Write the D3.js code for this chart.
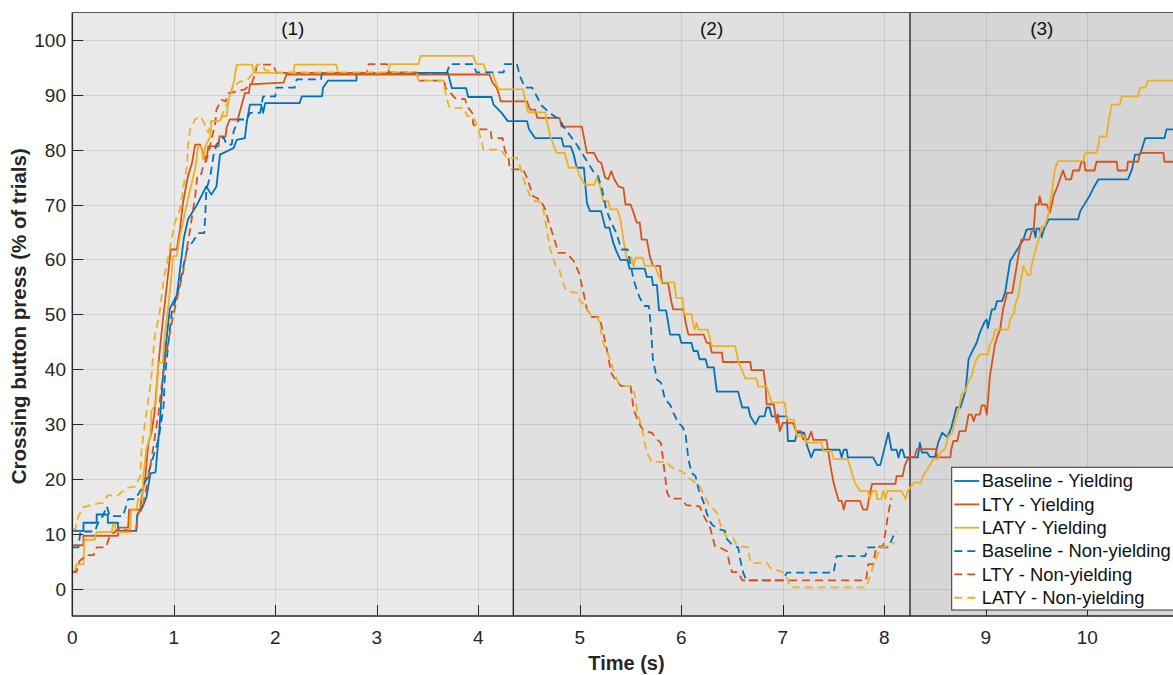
<!DOCTYPE html>
<html>
<head>
<meta charset="utf-8">
<script src="https://cdn.jsdelivr.net/npm/d3@7"></script>
<style>
  html, body { margin: 0; padding: 0; background: #fff; }
  svg { display: block; font-family: "Liberation Sans", Arial, Helvetica, sans-serif; }
</style>
</head>
<body>
<svg id="chart" width="1173" height="675"></svg>
<script>
// ---------------- DATA ----------------
const seriesNames = ["Baseline - Yielding", "LTY - Yielding", "LATY - Yielding",
                     "Baseline - Non-yielding", "LTY - Non-yielding", "LATY - Non-yielding"];
const xTicks = [0, 1, 2, 3, 4, 5, 6, 7, 8, 9, 10];
const yTicks = [0, 10, 20, 30, 40, 50, 60, 70, 80, 90, 100];
const regionBounds = [0, 4.345, 8.253, 10.85];
const regionLabels = ["(1)", "(2)", "(3)"];
const xLabel = "Time (s)";
const yLabel = "Crossing button press (% of trials)";

const baselineYielding = [[0,10.5],[0.11,10.5],[0.11,12.0],[0.24,12.0],[0.24,13.5],[0.35,13.5],[0.35,12.0],[0.45,12.0],[0.45,10.5],[0.63,10.5],[0.64,13.5],[0.69,14.8],[0.73,16.6],[0.77,21],[0.82,21.2],[0.86,29.6],[0.89,38],[0.92,44],[0.96,51],[1.03,53.5],[1.06,58],[1.10,64],[1.14,67.3],[1.23,70],[1.27,71.5],[1.32,73.3],[1.37,71.8],[1.42,73.3],[1.455,79.1],[1.59,80.3],[1.62,81.8],[1.70,82.1],[1.72,85.2],[1.75,88.2],[1.86,88.2],[1.88,86.7],[1.90,88.5],[2.24,88.5],[2.26,89.7],[2.46,89.7],[2.47,91.3],[2.52,92.6],[2.80,92.6],[2.80,94.0],[3.70,94.0],[3.74,91.2],[3.88,91.2],[3.90,89.6],[4.13,89.6],[4.15,88.2],[4.23,86.7],[4.29,85.2],[4.48,85.2],[4.50,83.7],[4.56,82.1],[4.82,82.1],[4.84,80.6],[4.91,80.6],[4.94,79.1],[4.97,76.7],[5.04,76.7],[5.07,70.3],[5.10,68.8],[5.21,68.8],[5.25,65.8],[5.29,65.8],[5.33,63],[5.36,61.5],[5.40,59.9],[5.47,59.9],[5.49,58.3],[5.64,58.3],[5.66,56.8],[5.71,56.8],[5.72,55.3],[5.76,55.3],[5.78,50.7],[5.85,50.7],[5.89,46.3],[5.98,46.3],[6.00,44.8],[6.10,44.8],[6.12,43.3],[6.16,43.3],[6.18,41.8],[6.24,41.8],[6.26,40.3],[6.32,40.3],[6.35,35.9],[6.56,35.9],[6.60,33],[6.66,33],[6.68,31.4],[6.73,29.9],[6.77,31.4],[6.82,31.4],[6.84,33],[6.87,33],[6.89,31.4],[7.04,31.4],[7.05,26.9],[7.12,26.9],[7.14,28.4],[7.21,28.4],[7.24,26],[7.28,23.9],[7.31,25.3],[7.56,25.3],[7.58,23.9],[7.60,25.3],[7.63,25.3],[7.64,23.9],[7.89,23.9],[7.93,22.5],[7.96,22.5],[8.04,28.4],[8.07,25.3],[8.12,25.3],[8.14,23.9],[8.16,25.3],[8.18,25.3],[8.20,23.9],[8.33,23.9],[8.35,26.6],[8.37,24.8],[8.42,24.8],[8.45,24],[8.50,24],[8.53,26.6],[8.57,28.4],[8.62,27.6],[8.66,29.3],[8.71,33],[8.75,33],[8.80,36],[8.83,41.8],[8.86,43],[8.91,44.8],[8.94,46.6],[8.99,48.7],[9.01,49.0],[9.02,47.5],[9.06,50.9],[9.09,50.9],[9.11,52.4],[9.16,52.4],[9.19,53.9],[9.21,56.3],[9.24,59.7],[9.29,61.2],[9.34,62.7],[9.37,63.6],[9.40,65.4],[9.47,65.6],[9.49,64],[9.50,65.6],[9.53,65.6],[9.55,64],[9.57,65.4],[9.62,67.3],[9.91,67.3],[9.93,68.8],[9.98,70.3],[10.02,71.5],[10.06,73],[10.11,74.6],[10.40,74.6],[10.44,76.4],[10.47,79.1],[10.52,79.1],[10.57,82.1],[10.76,82.1],[10.78,83.7],[10.9,83.7]];

const ltyYielding = [[0,7.9],[0.11,7.9],[0.11,9.6],[0.45,9.6],[0.46,11.1],[0.55,11.1],[0.56,14.4],[0.67,14.4],[0.68,16.3],[0.72,20.5],[0.75,26.6],[0.78,28.4],[0.81,32],[0.85,41.2],[0.89,48.5],[0.93,55],[0.97,61.8],[1.03,61.8],[1.06,65.4],[1.09,70.3],[1.14,75.2],[1.18,77.6],[1.21,80.9],[1.26,80.9],[1.29,79.4],[1.32,77.9],[1.34,80.6],[1.44,80.6],[1.45,82.4],[1.51,82.4],[1.52,84],[1.55,85.5],[1.63,85.5],[1.70,90.3],[1.74,90.3],[1.75,91.9],[2.08,92.2],[2.11,93.7],[4.11,93.7],[4.14,92.2],[4.18,91.3],[4.20,90.3],[4.22,88.8],[4.48,88.8],[4.51,87.3],[4.56,87.3],[4.58,85.8],[4.80,85.8],[4.82,84.2],[5.02,84.2],[5.07,79.4],[5.14,79.4],[5.18,77.9],[5.21,77.6],[5.25,74.9],[5.28,74.6],[5.31,76.1],[5.34,74.6],[5.38,73.3],[5.43,73],[5.45,70],[5.50,70],[5.53,68.5],[5.56,66.7],[5.59,66.7],[5.61,63.6],[5.66,63.6],[5.69,60.6],[5.72,58.8],[5.79,58.8],[5.81,55.7],[5.87,55.7],[5.90,52.4],[5.92,50.9],[6.02,50.9],[6.05,47.8],[6.07,46.3],[6.22,46.3],[6.25,44.8],[6.28,44.8],[6.30,43],[6.40,43],[6.41,41.3],[6.68,41.3],[6.69,39.8],[6.81,39.8],[6.83,37],[6.84,33.6],[6.91,33.6],[6.94,30.2],[6.95,31.8],[6.97,28.7],[7.0,30.2],[7.10,30.2],[7.13,28.7],[7.18,28.7],[7.20,27.2],[7.25,27.2],[7.28,28.6],[7.30,27.1],[7.43,27.1],[7.47,22.3],[7.50,19.3],[7.55,16],[7.58,16],[7.60,14.4],[7.62,16],[7.76,16],[7.79,14.4],[7.83,14.4],[7.86,17.5],[7.88,19.1],[8.11,19.1],[8.12,20.5],[8.18,20.5],[8.20,22.3],[8.24,24],[8.30,24],[8.32,25.4],[8.51,25.4],[8.52,23.9],[8.65,23.9],[8.66,25.4],[8.68,26.9],[8.72,26.9],[8.74,28.7],[8.80,28.7],[8.83,31.7],[8.86,31.7],[8.88,30.5],[8.90,31.7],[8.94,31.7],[8.96,33.4],[8.99,33.4],[9.01,31.7],[9.04,38.7],[9.09,44.5],[9.12,46.3],[9.14,47.2],[9.17,50.9],[9.21,53.9],[9.26,53.9],[9.29,57.2],[9.32,60.6],[9.35,63.6],[9.43,63.6],[9.45,65.1],[9.47,65.1],[9.49,70],[9.52,70],[9.53,71.5],[9.55,70],[9.60,70],[9.63,68.5],[9.65,70],[9.67,71.8],[9.70,73],[9.73,74.6],[9.76,76.2],[9.79,74.6],[9.84,74.6],[9.86,76.2],[9.92,76.2],[9.94,77.8],[9.97,77.8],[9.98,76.2],[10.07,76.2],[10.09,77.8],[10.29,77.8],[10.30,76.2],[10.39,76.2],[10.40,77.8],[10.50,77.8],[10.52,79.4],[10.75,79.4],[10.76,77.8],[10.9,77.8]];

const latyYielding = [[0,3.2],[0.03,3.2],[0.04,4.4],[0.11,4.4],[0.12,8.9],[0.22,8.9],[0.24,10.3],[0.39,10.3],[0.40,11.7],[0.42,11.7],[0.43,10.3],[0.57,10.3],[0.58,14.4],[0.63,14.4],[0.65,16.3],[0.69,16.3],[0.70,20.5],[0.73,25.4],[0.77,28.1],[0.78,32.4],[0.82,33.5],[0.83,36.3],[0.85,41.2],[0.89,41.2],[0.91,46],[0.95,52.1],[0.98,57.6],[0.99,60.6],[1.03,60.6],[1.06,64.2],[1.11,68.5],[1.16,72.7],[1.21,76.4],[1.24,80.6],[1.27,80.6],[1.29,78.2],[1.31,80.6],[1.36,82.4],[1.37,85.2],[1.45,85.2],[1.48,86.1],[1.52,86.1],[1.54,89.1],[1.57,91],[1.59,92.2],[1.62,95.5],[1.77,95.5],[1.79,94],[2.18,94],[2.19,95.5],[2.60,95.5],[2.62,94],[3.11,94],[3.13,95.6],[3.41,95.6],[3.43,97.1],[3.95,97.1],[3.98,95.6],[4.05,95.6],[4.08,94.1],[4.14,94.1],[4.17,92.3],[4.20,91],[4.44,91],[4.49,86.8],[4.66,86.8],[4.67,85.5],[4.71,82.4],[4.74,80.9],[4.77,79.4],[4.85,79.4],[4.89,76.7],[4.97,76.7],[5.00,75.2],[5.05,73.6],[5.14,73.6],[5.17,74.9],[5.20,73.3],[5.23,70.6],[5.28,70.6],[5.30,69.1],[5.37,69.1],[5.40,67.3],[5.43,63.6],[5.46,60.3],[5.51,60.3],[5.53,58.8],[5.55,60.3],[5.62,60.3],[5.64,58.8],[5.74,58.8],[5.77,57.3],[5.81,55.8],[5.93,55.8],[5.95,53],[6.01,53],[6.03,50],[6.10,50],[6.13,47.2],[6.15,48.4],[6.17,47.2],[6.26,47.2],[6.30,44.2],[6.53,44.2],[6.56,41.5],[6.63,38.3],[6.74,38.3],[6.76,36.8],[6.84,36.8],[6.89,33.9],[7.02,33.9],[7.04,30.8],[7.11,30.8],[7.14,27.8],[7.21,27.8],[7.23,26.6],[7.38,26.6],[7.40,25.1],[7.48,25.1],[7.50,23.6],[7.64,23.6],[7.71,19.3],[7.76,17.8],[7.84,17.8],[7.86,16.3],[7.88,17.8],[7.92,17.8],[7.93,16.3],[7.97,16.3],[7.99,17.8],[8.01,16.3],[8.03,17.8],[8.17,17.8],[8.21,16.3],[8.23,17.8],[8.29,19.3],[8.36,19.3],[8.38,20.5],[8.45,22.5],[8.48,23.6],[8.53,23.6],[8.55,24.8],[8.60,25.5],[8.63,27.8],[8.67,28.4],[8.70,30.8],[8.73,32.4],[8.76,35.4],[8.80,36.0],[8.83,37.8],[8.86,38.7],[8.89,40.9],[8.91,41.8],[8.94,42.7],[9.02,42.7],[9.04,44.5],[9.07,45.4],[9.09,47.2],[9.22,47.2],[9.24,49.1],[9.28,50.3],[9.29,51.8],[9.32,53.3],[9.34,55.7],[9.37,58.8],[9.41,57.2],[9.44,57.2],[9.45,58.8],[9.47,60.3],[9.50,62.4],[9.53,64.2],[9.55,66],[9.58,66],[9.62,68.5],[9.63,70],[9.65,72.1],[9.68,76.4],[9.71,77.9],[9.96,77.9],[9.98,79.4],[10.09,79.4],[10.11,80.9],[10.12,82.4],[10.19,82.4],[10.21,85.2],[10.24,88.2],[10.32,88.2],[10.34,89.7],[10.50,89.7],[10.52,91.3],[10.57,91.3],[10.60,92.6],[10.9,92.6]];

const baselineNonYielding = [[0,7.5],[0.06,7.5],[0.08,10.4],[0.22,10.4],[0.26,12.2],[0.30,13.2],[0.34,15],[0.37,13.2],[0.50,13.2],[0.55,16.3],[0.62,16.3],[0.68,18.1],[0.73,19.9],[0.77,22.3],[0.81,24.8],[0.85,27.2],[0.90,33.3],[0.91,38.1],[0.95,45.4],[0.98,50.3],[1.03,53.3],[1.06,55.7],[1.13,61.8],[1.19,63.3],[1.24,64.8],[1.30,64.8],[1.31,67.9],[1.32,72.7],[1.36,75.2],[1.39,78.8],[1.42,80.9],[1.49,82.3],[1.52,80.9],[1.57,80.9],[1.59,83.4],[1.64,85.5],[1.72,85.5],[1.75,86.7],[1.85,86.7],[1.88,89.7],[2.00,89.7],[2.01,91.3],[2.19,91.3],[2.21,92.8],[2.45,92.8],[2.46,94],[3.69,94],[3.72,95.6],[3.95,95.6],[3.98,94.1],[4.25,94.1],[4.26,95.6],[4.38,95.6],[4.41,93.4],[4.46,91.3],[4.53,91.3],[4.58,89.6],[4.62,88.1],[4.71,86.6],[4.80,85.5],[4.84,84.2],[4.90,82.7],[4.97,80.9],[5.07,77.9],[5.13,76.1],[5.18,75.2],[5.22,72.7],[5.26,69.1],[5.31,66.7],[5.36,64.8],[5.41,61.8],[5.47,61.8],[5.49,60],[5.53,56.3],[5.56,54.5],[5.59,53],[5.64,51.5],[5.68,51.5],[5.70,47.8],[5.72,41.8],[5.76,38.1],[5.80,37.5],[5.84,34.5],[5.89,33.5],[5.92,32.1],[5.97,30.2],[6.01,29.5],[6.04,28.4],[6.07,23.6],[6.10,21.1],[6.14,20.5],[6.17,18.1],[6.22,15.7],[6.25,13.8],[6.28,12.3],[6.31,11.5],[6.38,10.8],[6.43,10.5],[6.45,9],[6.51,7.8],[6.56,7.5],[6.58,5.3],[6.61,2.9],[6.64,1.5],[7.00,1.5],[7.04,2.9],[7.50,2.9],[7.53,5.9],[7.81,5.9],[7.84,7.5],[8.04,7.5],[8.09,9.6],[8.12,10.5]];

const ltyNonYielding = [[0,3.0],[0.04,3.0],[0.07,5],[0.14,6.1],[0.21,6.1],[0.24,7.5],[0.33,7.5],[0.37,9.6],[0.45,10.8],[0.60,10.5],[0.63,10.8],[0.65,13.8],[0.69,14.4],[0.72,17.5],[0.75,20.5],[0.78,23.6],[0.81,27.2],[0.85,32.1],[0.88,36.9],[0.91,41.2],[0.95,45.4],[0.98,48.5],[1.03,52.7],[1.09,57.5],[1.16,65.4],[1.21,71.5],[1.23,74.9],[1.26,74.9],[1.29,77],[1.34,79.1],[1.37,81.8],[1.41,84.9],[1.42,87.3],[1.47,89.1],[1.51,88.8],[1.54,90.3],[1.62,90.6],[1.70,91],[1.77,92.2],[1.80,93.7],[1.82,95.5],[1.98,95.5],[2.01,94],[2.90,94],[2.92,95.6],[3.10,95.6],[3.12,94.1],[3.39,94.1],[3.41,92.6],[3.66,92.6],[3.68,91.2],[3.72,90.5],[3.77,89.4],[3.87,89.2],[3.89,87.9],[3.94,86.7],[3.95,84.6],[4.02,83.7],[4.12,83.7],[4.13,82.1],[4.24,82.1],[4.26,80],[4.30,78.2],[4.31,76.4],[4.44,76.4],[4.48,74.9],[4.54,71.5],[4.61,70.9],[4.66,69.1],[4.69,67],[4.74,64.2],[4.79,61.2],[4.87,61.2],[4.94,59.7],[4.99,57.6],[5.03,54.5],[5.07,50.9],[5.12,49.5],[5.19,49.5],[5.22,47.5],[5.26,44.2],[5.31,39.3],[5.36,37.8],[5.41,36.9],[5.50,36.9],[5.53,32.7],[5.58,30.2],[5.63,28.7],[5.71,28.4],[5.76,27.2],[5.80,26.5],[5.82,23.6],[5.86,17.5],[5.89,16.4],[6.00,16.4],[6.05,15.2],[6.18,15.0],[6.23,12.9],[6.28,11.4],[6.33,7.8],[6.38,7.5],[6.45,6.8],[6.48,4.1],[6.50,3.0],[6.56,3.0],[6.60,1.5],[7.82,1.5],[7.84,4.4],[7.89,4.5],[7.92,7.5],[7.99,7.8],[8.02,11.4],[8.04,13.8],[8.07,16.5]];

const latyNonYielding = [[0,10.8],[0.03,10.8],[0.06,13.2],[0.11,14.8],[0.21,15.4],[0.30,15.6],[0.35,17],[0.45,17],[0.50,17.8],[0.55,18.4],[0.62,18.6],[0.67,20.5],[0.68,24.8],[0.72,30.8],[0.75,34.5],[0.78,38.7],[0.81,45.7],[0.86,50.3],[0.90,56.3],[0.96,61.8],[1.01,66.7],[1.06,69.1],[1.09,72.7],[1.13,77],[1.14,80.6],[1.16,83.7],[1.21,85.5],[1.26,86.1],[1.29,85.2],[1.34,83.1],[1.37,85.2],[1.45,85.2],[1.48,86.5],[1.54,89.1],[1.56,90],[1.59,91.9],[1.62,91.9],[1.65,92.4],[1.72,92.6],[1.77,93.7],[1.82,95.5],[1.87,95.5],[1.90,94.5],[2.01,94.1],[3.39,94.1],[3.41,92.6],[3.66,92.6],[3.67,90.9],[3.71,87.9],[3.76,87.6],[3.86,87.6],[3.89,86.1],[3.95,86.1],[3.98,84.6],[4.03,81.8],[4.05,80],[4.22,80],[4.28,78.5],[4.38,78.5],[4.41,77],[4.46,73.9],[4.51,71.5],[4.56,70.6],[4.60,70.6],[4.64,69.1],[4.67,66],[4.71,61.8],[4.74,60],[4.77,58.5],[4.80,58],[4.84,55.4],[4.87,54.2],[4.97,53.9],[5.00,52.4],[5.03,52],[5.07,50.9],[5.13,49.4],[5.18,49.4],[5.20,47.8],[5.23,44.8],[5.30,41.8],[5.35,38.7],[5.38,37.5],[5.43,36.9],[5.51,36.9],[5.54,35.4],[5.57,32],[5.61,29.3],[5.66,24.8],[5.71,23.1],[5.86,23.1],[5.89,22.3],[5.94,21.8],[6.00,21.4],[6.09,20],[6.18,18.7],[6.23,16.9],[6.27,15.4],[6.35,13.8],[6.40,10.8],[6.45,9.3],[6.51,9.2],[6.55,7.8],[6.66,7.5],[6.68,4.7],[6.84,4.7],[6.89,3.5],[6.95,3.3],[7.00,3.0],[7.04,2.0],[7.07,0.2],[7.82,0.2],[7.86,2.3],[7.89,4.1],[7.96,7.5],[8.07,7.8],[8.10,8.5]];

const seriesData = [baselineYielding, ltyYielding, latyYielding,
                    baselineNonYielding, ltyNonYielding, latyNonYielding];

// ---------------- STYLE ----------------
const colors = ["#0072BD", "#D95319", "#EDB120", "#0072BD", "#D95319", "#EDB120"];
const dashed = [false, false, false, true, true, true];
const regionFills = ["#e9e9e9", "#e0e0e0", "#d6d6d6"];
const axisColor = "#262626";

const svg = d3.select("#chart");
const plot = { left: 72.3, right: 1173.6, top: 12.5, bottom: 616 };

const x = d3.scaleLinear().domain([0, 10.85]).range([plot.left, plot.right]);
const y = d3.scaleLinear().domain([-5, 105]).range([plot.bottom, plot.top]);

svg.append("defs").append("clipPath").attr("id", "clip")
  .append("rect").attr("x", plot.left).attr("y", plot.top)
  .attr("width", plot.right - plot.left + 10).attr("height", plot.bottom - plot.top);

// region backgrounds
const regions = regionLabels.map((lab, i) => ({ lab, x0: regionBounds[i], x1: regionBounds[i + 1] }));
svg.append("g").selectAll("rect").data(regions).join("rect")
  .attr("x", d => x(d.x0)).attr("y", plot.top)
  .attr("width", (d, i) => (i === regions.length - 1 ? 20 : 0) + x(d.x1) - x(d.x0))
  .attr("height", plot.bottom - plot.top)
  .attr("fill", (d, i) => regionFills[i]);

// grid
const grid = svg.append("g").attr("stroke", "rgba(38,38,38,0.11)").attr("stroke-width", 1);
grid.selectAll("line.gx").data(xTicks).join("line").attr("class", "gx")
  .attr("x1", d => Math.round(x(d)) + 0.5).attr("x2", d => Math.round(x(d)) + 0.5)
  .attr("y1", plot.top).attr("y2", plot.bottom);
grid.selectAll("line.gy").data(yTicks).join("line").attr("class", "gy")
  .attr("x1", plot.left).attr("x2", plot.right + 10)
  .attr("y1", d => Math.round(y(d)) + 0.5).attr("y2", d => Math.round(y(d)) + 0.5);

// region boundary lines
svg.append("g").selectAll("line").data(regionBounds.slice(1, 3)).join("line")
  .attr("x1", d => x(d)).attr("x2", d => x(d))
  .attr("y1", plot.top).attr("y2", plot.bottom)
  .attr("stroke", "#1a1a1a").attr("stroke-width", 1.3);

// region labels
svg.append("g").selectAll("text").data(regions).join("text")
  .attr("x", d => (x(d.x0) + x(d.x1)) / 2).attr("y", 34.5)
  .attr("text-anchor", "middle").attr("font-size", 19).attr("fill", "#111")
  .text(d => d.lab);

// lines
const line = d3.line().x(d => x(d[0])).y(d => y(d[1]));
const lg = svg.append("g").attr("clip-path", "url(#clip)");
seriesData.forEach((s, i) => {
  lg.append("path").datum(s)
    .attr("d", line)
    .attr("fill", "none")
    .attr("stroke", colors[i])
    .attr("stroke-width", 1.8)
    .attr("stroke-linejoin", "round")
    .attr("stroke-dasharray", dashed[i] ? "8,5" : null);
});

// axes box lines
svg.append("line").attr("x1", plot.left).attr("x2", plot.left)
  .attr("y1", plot.top).attr("y2", plot.bottom + 0.5)
  .attr("stroke", axisColor).attr("stroke-width", 1.5);
svg.append("line").attr("x1", plot.left).attr("x2", plot.right + 10)
  .attr("y1", plot.bottom).attr("y2", plot.bottom)
  .attr("stroke", axisColor).attr("stroke-width", 1.5);
svg.append("line").attr("x1", plot.left).attr("x2", plot.right + 10)
  .attr("y1", plot.top).attr("y2", plot.top)
  .attr("stroke", "#555").attr("stroke-width", 1.2);

// ticks (inward)
svg.append("g").selectAll("line").data(xTicks).join("line")
  .attr("x1", d => Math.round(x(d)) + 0.5).attr("x2", d => Math.round(x(d)) + 0.5)
  .attr("y1", plot.bottom).attr("y2", plot.bottom - 11)
  .attr("stroke", axisColor).attr("stroke-width", 1);
svg.append("g").selectAll("line").data(yTicks).join("line")
  .attr("x1", plot.left).attr("x2", plot.left + 11)
  .attr("y1", d => Math.round(y(d)) + 0.5).attr("y2", d => Math.round(y(d)) + 0.5)
  .attr("stroke", axisColor).attr("stroke-width", 1);

// tick labels
svg.append("g").selectAll("text").data(xTicks).join("text")
  .attr("x", d => x(d)).attr("y", 644)
  .attr("text-anchor", "middle").attr("font-size", 19).attr("fill", axisColor)
  .text(d => d);
svg.append("g").selectAll("text").data(yTicks).join("text")
  .attr("x", 66).attr("y", d => y(d) + 7)
  .attr("text-anchor", "end").attr("font-size", 19).attr("fill", axisColor)
  .text(d => d);

// axis titles
svg.append("text").attr("x", 626.5).attr("y", 670)
  .attr("text-anchor", "middle").attr("font-size", 20).attr("font-weight", "bold")
  .attr("fill", axisColor).text(xLabel);
svg.append("text").attr("transform", "translate(25.5," + ((plot.top + plot.bottom) / 2 + 2) + ") rotate(-90)")
  .attr("text-anchor", "middle").attr("font-size", 20.5).attr("font-weight", "bold")
  .attr("fill", axisColor).text(yLabel);

// legend
const leg = { x: 951.7, y: 467.3, w: 240, h: 142.7 };
const lgd = svg.append("g");
lgd.append("rect").attr("x", leg.x).attr("y", leg.y).attr("width", leg.w).attr("height", leg.h)
  .attr("fill", "#ffffff").attr("stroke", "#333").attr("stroke-width", 1);
const rowY = i => 481 + i * 23.35;
seriesNames.forEach((name, i) => {
  lgd.append("line").attr("x1", 954.3).attr("x2", 979.3)
    .attr("y1", rowY(i)).attr("y2", rowY(i))
    .attr("stroke", colors[i]).attr("stroke-width", 1.8)
    .attr("stroke-dasharray", dashed[i] ? "8,5" : null);
  lgd.append("text").attr("x", 981.7).attr("y", rowY(i) + 6.3)
    .attr("font-size", 18.4).attr("fill", "#111").text(name);
});
</script>
</body>
</html>
